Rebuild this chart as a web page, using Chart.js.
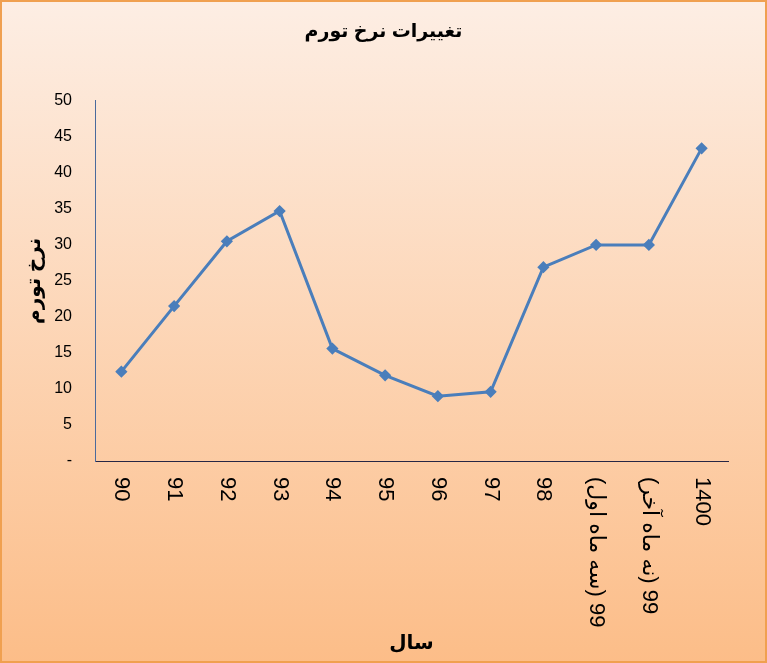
<!DOCTYPE html>
<html lang="fa">
<head>
    <meta charset="UTF-8">
    <title>تغییرات نرخ تورم</title>
    <script src="https://cdn.jsdelivr.net/npm/chart.js"></script>
    <style>
        html, body { margin: 0; padding: 0; background: #fff; }
        .wrap { width: 767px; height: 663px; }
    </style>
</head>
<body>
    <div class="wrap">
        <canvas id="inflationChart" width="767" height="663"></canvas>
    </div>

    <script>
        const years = ['90', '91', '92', '93', '94', '95', '96', '97', '98', '99 (سه ماه اول)', '99 (نه ماه آخر)', '1400'];
        const inflation = [12.4, 21.5, 30.5, 34.7, 15.6, 11.9, 9.0, 9.6, 26.9, 30.0, 30.0, 43.4];
        const yTicks = [0, 5, 10, 15, 20, 25, 30, 35, 40, 45, 50];

        const fontFamily = "'Liberation Sans', Arial, 'DejaVu Sans', sans-serif";

        // peach gradient background + thin orange frame
        const backdrop = {
            id: 'backdrop',
            beforeDraw(chart) {
                const { ctx, width, height } = chart;
                const g = ctx.createLinearGradient(0, 0, 0, height);
                g.addColorStop(0, '#fdeee4');
                g.addColorStop(1, '#fcbd88');
                ctx.save();
                ctx.fillStyle = g;
                ctx.fillRect(0, 0, width, height);
                ctx.strokeStyle = '#f0a050';
                ctx.lineWidth = 2;
                ctx.strokeRect(1, 1, width - 2, height - 2);
                ctx.restore();
            }
        };

        // x labels run top-to-bottom (turned clockwise), so draw them here
        const verticalLabels = {
            id: 'verticalLabels',
            afterDraw(chart) {
                const { ctx } = chart;
                const xs = chart.scales.x;
                ctx.save();
                ctx.fillStyle = '#000';
                ctx.font = '22px ' + fontFamily;
                ctx.direction = 'rtl';
                ctx.textAlign = 'left';
                ctx.textBaseline = 'middle';
                years.forEach((lab, i) => {
                    const x = xs.getPixelForValue(i);
                    ctx.save();
                    ctx.translate(x, xs.top + 16);
                    ctx.rotate(Math.PI / 2);
                    ctx.fillText(lab, 0, 0);
                    ctx.restore();
                });
                ctx.restore();
            }
        };

        new Chart(document.getElementById('inflationChart'), {
            type: 'line',
            data: {
                labels: years,
                datasets: [{
                    label: 'نرخ تورم',
                    data: inflation,
                    borderColor: '#4a7ebb',
                    backgroundColor: '#4a7ebb',
                    borderWidth: 3,
                    pointStyle: 'rectRot',
                    pointRadius: 4,
                    pointHoverRadius: 4,
                    tension: 0,
                    fill: false
                }]
            },
            options: {
                responsive: false,
                animation: false,
                layout: { padding: 0 },
                plugins: {
                    legend: { display: false },
                    tooltip: { enabled: false },
                    title: {
                        display: true,
                        text: 'تغییرات نرخ تورم',
                        color: '#000',
                        font: { family: fontFamily, size: 19, weight: 'bold' },
                        padding: { top: 20, bottom: 58 }
                    }
                },
                scales: {
                    x: {
                        offset: true,
                        grid: { display: false, drawTicks: false, offset: true },
                        border: { display: true, color: '#262645', width: 1 },
                        ticks: { display: false },
                        title: {
                            display: true,
                            text: 'سال',
                            color: '#000',
                            font: { family: fontFamily, size: 20, weight: 'bold' },
                            padding: { top: 0, bottom: 8 }
                        },
                        afterFit(s) { s.height = 202; }
                    },
                    y: {
                        min: 0,
                        max: 50,
                        afterBuildTicks(s) { s.ticks = yTicks.map(v => ({ value: v })); },
                        grid: { display: false, drawTicks: false },
                        border: { display: true, color: '#4a6a9c', width: 1 },
                        ticks: {
                            color: '#000',
                            padding: 23,
                            font: { family: fontFamily, size: 16 },
                            callback: v => (v === 0 ? '-' : v)
                        },
                        title: {
                            display: true,
                            text: 'نرخ تورم',
                            color: '#000',
                            font: { family: fontFamily, size: 20, weight: 'bold' },
                            padding: { top: 22, bottom: 0 }
                        },
                        afterFit(s) { s.width = 95; }
                    },
                    // empty strip on the right so the plot ends where the original does
                    yRight: {
                        position: 'right',
                        display: true,
                        grid: { display: false, drawTicks: false },
                        border: { display: false },
                        ticks: { display: false },
                        afterFit(s) { s.width = 39; }
                    }
                }
            },
            plugins: [backdrop, verticalLabels]
        });
    </script>
</body>
</html>
